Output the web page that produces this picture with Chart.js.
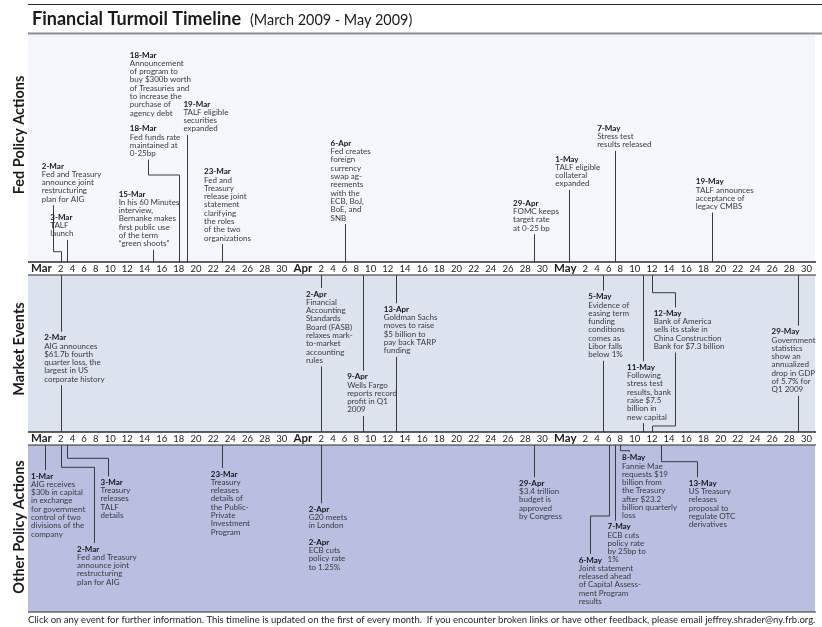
<!DOCTYPE html>
<html><head><meta charset="utf-8">
<script src="https://cdn.jsdelivr.net/npm/chart.js@4.4.1/dist/chart.umd.min.js"></script>
<style>html,body{margin:0;padding:0;background:#fff;}canvas{display:block;}</style>
</head><body>
<canvas id="c" width="822" height="627"></canvas>
<script>
// ================= DATA =================
const months = ['Mar', 'Apr', 'May'];
const monthLengths = [31, 30, 31];
const tickDays = [2, 4, 6, 8, 10, 12, 14, 16, 18, 20, 22, 24, 26, 28, 30];

const fedDates = ['2-Mar', '3-Mar', '15-Mar', '18-Mar', '18-Mar', '19-Mar', '23-Mar', '6-Apr', '29-Apr', '1-May', '7-May', '19-May'];
const fedNotes = [
  'Fed and Treasury\nannounce joint\nrestructuring\nplan for AIG',
  'TALF\nlaunch',
  'In his 60 Minutes\ninterview,\nBernanke makes\nfirst public use\nof the term\n“green shoots”',
  'Announcement\nof program to\nbuy $300b worth\nof Treasuries and\nto increase the\npurchase of\nagency debt',
  'Fed funds rate\nmaintained at\n0-25bp',
  'TALF eligible\nsecurities\nexpanded',
  'Fed and\nTreasury\nrelease joint\nstatement\nclarifying\nthe roles\nof the two\norganizations',
  'Fed creates\nforeign\ncurrency\nswap ag-\nreements\nwith the\nECB, BoJ,\nBoE, and\nSNB',
  'FOMC keeps\ntarget rate\nat 0-25 bp',
  'TALF eligible\ncollateral\nexpanded',
  'Stress test\nresults released',
  'TALF announces\nacceptance of\nlegacy CMBS'
];

const marketDates = ['2-Mar', '2-Apr', '9-Apr', '13-Apr', '5-May', '11-May', '12-May', '29-May'];
const marketNotes = [
  'AIG announces\n$61.7b fourth\nquarter loss, the\nlargest in US\ncorporate history',
  'Financial\nAccounting\nStandards\nBoard (FASB)\nrelaxes mark-\nto-market\naccounting\nrules',
  'Wells Fargo\nreports record\nprofit in Q1\n2009',
  'Goldman Sachs\nmoves to raise\n$5 billion to\npay back TARP\nfunding',
  'Evidence of\neasing term\nfunding\nconditions\ncomes as\nLibor falls\nbelow 1%',
  'Following\nstress test\nresults, bank\nraise $7.5\nbillion in\nnew capital',
  'Bank of America\nsells its stake in\nChina Construction\nBank for $7.3 billion',
  'Government\nstatistics\nshow an\nannualized\ndrop in GDP\nof 5.7% for\nQ1 2009'
];

const otherDates = ['1-Mar', '2-Mar', '3-Mar', '23-Mar', '2-Apr', '2-Apr', '29-Apr', '6-May', '7-May', '8-May', '13-May'];
const otherNotes = [
  'AIG receives\n$30b in capital\nin exchange\nfor government\ncontrol of two\ndivisions of the\ncompany',
  'Fed and Treasury\nannounce joint\nrestructuring\nplan for AIG',
  'Treasury\nreleases\nTALF\ndetails',
  'Treasury\nreleases\ndetails of\nthe Public-\nPrivate\nInvestment\nProgram',
  'G20 meets\nin London',
  'ECB cuts\npolicy rate\nto 1.25%',
  '$3.4 trillion\nbudget is\napproved\nby Congress',
  'Joint statement\nreleased ahead\nof Capital Assess-\nment Program\nresults',
  'ECB cuts\npolicy rate\nby 25bp to\n1%',
  'Fannie Mae\nrequests $19\nbillion from\nthe Treasury\nafter $23.2\nbillion quarterly\nloss',
  'US Treasury\nreleases\nproposal to\nregulate OTC\nderivatives'
];

const panelNames = ['Fed Policy Actions', 'Market Events', 'Other Policy Actions'];
const titleText = 'Financial Turmoil Timeline';
const subtitleText = '(March 2009 - May 2009)';
const footerText = 'Click on any event for further information. This timeline is updated on the first of every month.  If you encounter broken links or have other feedback, please email jeffrey.shrader@ny.frb.org.';

// ================= LAYOUT (label placement, not data) =================
// dx: text offset from the event's stem; ty: title row; ex/ey: elbow of the leader line
const fedLayout = [
  {dx: -19, ty: 166, ex: -7.6, ey: 251.7},
  {dx: -16.3, ty: 217.3},
  {dx: -34.4, ty: 194},
  {dx: -49, ty: 55, noStem: true},
  {dx: -49, ty: 128.7, ex: -31.3, ey: 175},
  {dx: -4, ty: 104},
  {dx: -17.7, ty: 171.7},
  {dx: -14, ty: 143.3},
  {dx: -20.7, ty: 203.3},
  {dx: -14, ty: 159},
  {dx: -17.4, ty: 128.3},
  {dx: -16.3, ty: 181.7}
];
const marketLayout = [
  {dx: -16.6, ty: 337.7},
  {dx: -15.3, ty: 294},
  {dx: -16.3, ty: 376.7},
  {dx: -12.7, ty: 309.3},
  {dx: -14.6, ty: 296.7},
  {dx: -16.3, ty: 367.3},
  {dx: 1.7, ty: 313.3, ex: 22.7, ey: 292.7, ey2: 426},
  {dx: -26.3, ty: 331.7}
];
const otherLayout = [
  {dx: -14.3, ty: 476},
  {dx: 16.3, ty: 549, ex: 33, ey: 467.3},
  {dx: 34, ty: 482.3, ex: 41.4, ey: 458.3},
  {dx: -11, ty: 474},
  {dx: -12.6, ty: 509.3},
  {dx: -12.6, ty: 542.3, noStem: true},
  {dx: -14.7, ty: 483.3},
  {dx: -30, ty: 560, ex: -18.4, ey: 516},
  {dx: -7, ty: 526.7},
  {dx: 1.7, ty: 457.7, ex: 8.3, ey: 450.7},
  {dx: 28.3, ty: 483.3, ex: 36, ey: 461.7}
];

const FRAME = {
  left: 28, right: 815, ruleTop: 4.5, titleBase: 25, ruleSub: 33.5,
  fedTop: 34.5, axis1Top: 262, axis1Bot: 275, axis2Top: 432, axis2Bot: 445, othBot: 612,
  footerY: 620, sideX: 19, sideY: [135, 349, 527]
};
const COLORS = {fed: '#f3f6fb', mkt: '#dde3ee', oth: '#b8bfe1', row: '#ffffff', line: '#2b2b2b',
  stem: '#3a3a3a', text: '#3a3a3a', head: '#141414', tick: '#1c1c1c'};
const FAMILY = 'Lato';
const TICK_FONT = {family: FAMILY, size: 9.5, lineHeight: '13px'};
const MONTH_FONT = {family: FAMILY, size: 11.5, weight: 'bold', lineHeight: '13px'};
const NOTE_SIZE = 8, NOTE_LH = 8.3;

// ================= helpers =================
function monthOffset(i) { let o = 0; for (let k = 0; k < i; k++) o += monthLengths[k]; return o; }
function dayValue(s) { const p = s.split('-'); return monthOffset(months.indexOf(p[1])) + Number(p[0]); }

const axisTokens = [];
months.forEach((m, i) => {
  const o = monthOffset(i);
  axisTokens.push({value: o + 0.75, label: m, month: true});
  tickDays.forEach(d => axisTokens.push({value: o + d, label: String(d), month: false}));
});

// A timeline axis whose labels flow like text; dates interpolate between labels.
class TimelineScale extends Chart.LinearScale {
  determineDataLimits() {
    this.min = axisTokens[0].value;
    this.max = axisTokens[axisTokens.length - 1].value;
  }
  buildTicks() { return axisTokens.map(t => ({value: t.value})); }
  generateTickLabels(ticks) { ticks.forEach((t, i) => { t.label = axisTokens[i].label; }); }
  configure() { super.configure(); this._measure(); }
  _measure() {
    const ctx = this.ctx; ctx.save();
    this._tw = axisTokens.map(t => {
      const f = t.month ? MONTH_FONT : TICK_FONT;
      ctx.font = (f.weight || 'normal') + ' ' + f.size + 'px ' + f.family;
      return ctx.measureText(t.label).width;
    });
    ctx.restore();
  }
  _centers() {
    if (!this._tw) this._measure();
    const tw = this._tw, total = tw.reduce((a, b) => a + b, 0);
    const gap = (this.right - this.left - total) / (tw.length - 1);
    let x = this.left;
    return tw.map(w => { const c = x + w / 2; x += w + gap; return c; });
  }
  _seg(v) {
    const t = axisTokens, n = t.length; let i = 0;
    if (v >= t[n - 1].value) i = n - 2;
    else while (i < n - 2 && v > t[i + 1].value) i++;
    return i;
  }
  getPixelForValue(v) {
    if (v === null || v === undefined || isNaN(v)) return NaN;
    const c = this._centers(), t = axisTokens, i = this._seg(v);
    const f = (v - t[i].value) / (t[i + 1].value - t[i].value);
    return c[i] + f * (c[i + 1] - c[i]);
  }
  getValueForPixel(p) {
    const c = this._centers(), t = axisTokens, n = t.length; let i = 0;
    if (p >= c[n - 1]) i = n - 2; else while (i < n - 2 && p > c[i + 1]) i++;
    const f = (p - c[i]) / (c[i + 1] - c[i]);
    return t[i].value + f * (t[i + 1].value - t[i].value);
  }
  afterFit() {
    super.afterFit();
    this.paddingLeft = 0; this.paddingRight = 0; this.paddingTop = 0; this.paddingBottom = 0;
  }
}
TimelineScale.id = 'timeline';
TimelineScale.defaults = {};
Chart.register(TimelineScale);

function tickFont(c) { return (axisTokens[c.index] && axisTokens[c.index].month) ? MONTH_FONT : TICK_FONT; }

function axisOptions(rowTop) {
  return {
    type: 'timeline', axis: 'x', position: {y: rowTop},
    grid: {display: false, drawTicks: false}, border: {display: false},
    ticks: {autoSkip: false, maxRotation: 0, minRotation: 0, padding: 0, color: COLORS.tick, font: tickFont}
  };
}

function hline(ctx, x1, x2, y, w) {
  ctx.lineWidth = w; ctx.beginPath(); ctx.moveTo(x1, y); ctx.lineTo(x2, y); ctx.stroke();
}

const framePlugin = {
  id: 'frame',
  beforeDraw(chart) {
    const ctx = chart.ctx, Y = chart.scales.y, py = v => Y.getPixelForValue(v);
    const L = FRAME.left, R = FRAME.right, W = R - L;
    ctx.save();
    const band = (top, bot, col) => { ctx.fillStyle = col; ctx.fillRect(L, py(top), W, py(bot) - py(top)); };
    band(FRAME.fedTop, FRAME.axis1Top, COLORS.fed);
    band(FRAME.axis1Top, FRAME.axis1Bot, COLORS.row);
    band(FRAME.axis1Bot, FRAME.axis2Top, COLORS.mkt);
    band(FRAME.axis2Top, FRAME.axis2Bot, COLORS.row);
    band(FRAME.axis2Bot, FRAME.othBot, COLORS.oth);
    ctx.strokeStyle = COLORS.line;
    hline(ctx, L, R + 1, py(FRAME.axis1Top), 1.6);
    hline(ctx, L, R + 1, py(FRAME.axis1Bot), 1.2);
    hline(ctx, L, R + 1, py(FRAME.axis2Top), 1.6);
    hline(ctx, L, R + 1, py(FRAME.axis2Bot), 1.2);
    hline(ctx, L, R + 1, py(FRAME.othBot), 1.2);
    // title rules
    ctx.strokeStyle = '#2a2a2a'; hline(ctx, L, chart.width, py(FRAME.ruleTop), 1);
    ctx.strokeStyle = '#8c8c8c'; hline(ctx, L, chart.width, py(FRAME.ruleSub), 2);
    // title
    ctx.fillStyle = '#1a1a1a'; ctx.textBaseline = 'alphabetic'; ctx.textAlign = 'left';
    ctx.font = 'bold 18px ' + FAMILY;
    ctx.fillText(titleText, 32, py(FRAME.titleBase));
    const tw = ctx.measureText(titleText).width;
    ctx.font = 'normal 14.4px ' + FAMILY;
    ctx.fillText(subtitleText, 32 + tw + 9, py(FRAME.titleBase));
    // side labels
    ctx.font = 'bold 14.5px ' + FAMILY; ctx.fillStyle = '#1a1a1a';
    ctx.textAlign = 'center'; ctx.textBaseline = 'middle';
    panelNames.forEach((n, i) => {
      ctx.save(); ctx.translate(FRAME.sideX, py(FRAME.sideY[i])); ctx.rotate(-Math.PI / 2);
      ctx.fillText(n, 0, 0); ctx.restore();
    });
    // footer, fitted to the frame width
    ctx.textAlign = 'left';
    ctx.font = 'normal 10px ' + FAMILY;
    const fw = ctx.measureText(footerText).width;
    const fs = 10 * (W + 1) / fw;
    ctx.font = 'normal ' + fs.toFixed(2) + 'px ' + FAMILY;
    ctx.fillStyle = '#1e1e1e';
    ctx.fillText(footerText, L, py(FRAME.footerY));
    ctx.restore();
  },
  afterDatasetsDraw(chart) {
    const ctx = chart.ctx, Y = chart.scales.y, py = v => Y.getPixelForValue(v);
    const a1t = py(FRAME.axis1Top), a1b = py(FRAME.axis1Bot), a2t = py(FRAME.axis2Top), a2b = py(FRAME.axis2Bot);
    ctx.save();
    ctx.strokeStyle = COLORS.stem; ctx.lineWidth = 1;
    const line = pts => {
      ctx.beginPath();
      pts.forEach((p, i) => { const x = Math.round(p[0]) + 0.5, y = p[1]; i ? ctx.lineTo(x, y) : ctx.moveTo(x, y); });
      ctx.stroke();
    };
    chart.data.datasets.forEach((ds, di) => {
      const meta = chart.getDatasetMeta(di);
      ds.notes.forEach((note, j) => {
        const el = meta.data[j], lay = ds.layout[j];
        const X = el.x, T = el.y;
        const lines = note.split('\n');
        const top = T - 6, bottom = T + lines.length * NOTE_LH + 6;
        if (!lay.noStem) {
          const hasE = lay.ex !== undefined;
          const XE = hasE ? X + lay.ex : X;
          if (ds.panel === 0) {
            line(hasE ? [[XE, bottom], [XE, lay.ey], [X, lay.ey], [X, a1t]] : [[X, bottom], [X, a1t]]);
          } else if (ds.panel === 1) {
            line(hasE ? [[X, a1b], [X, lay.ey], [XE, lay.ey], [XE, top]] : [[X, a1b], [X, top]]);
            line(hasE ? [[XE, bottom], [XE, lay.ey2], [X, lay.ey2], [X, a2t]] : [[X, bottom], [X, a2t]]);
          } else {
            line(hasE ? [[X, a2b], [X, lay.ey], [XE, lay.ey], [XE, top]] : [[X, a2b], [X, top]]);
          }
        }
        const tx = X + lay.dx;
        ctx.textAlign = 'left'; ctx.textBaseline = 'middle';
        ctx.fillStyle = COLORS.head; ctx.font = 'bold ' + NOTE_SIZE + 'px ' + FAMILY;
        ctx.fillText(ds.dates[j], tx, T);
        ctx.fillStyle = COLORS.text; ctx.font = 'normal ' + NOTE_SIZE + 'px ' + FAMILY;
        lines.forEach((s, k) => ctx.fillText(s, tx, T + (k + 1) * NOTE_LH));
      });
    });
    ctx.restore();
  }
};

function makeDataset(label, panel, dates, notes, layout) {
  return {
    label, panel, dates, notes, layout,
    data: dates.map((d, i) => ({x: dayValue(d), y: layout[i].ty})),
    pointRadius: 0, showLine: false, xAxisID: 'x', yAxisID: 'y'
  };
}

function build() {
  new Chart(document.getElementById('c'), {
    type: 'scatter',
    data: {datasets: [
      makeDataset(panelNames[0], 0, fedDates, fedNotes, fedLayout),
      makeDataset(panelNames[1], 1, marketDates, marketNotes, marketLayout),
      makeDataset(panelNames[2], 2, otherDates, otherNotes, otherLayout)
    ]},
    options: {
      responsive: false, animation: false, events: [],
      layout: {padding: {left: 31, right: 10, top: 0, bottom: 0}},
      plugins: {legend: {display: false}, tooltip: {enabled: false}, title: {display: false}},
      scales: {
        y: {type: 'linear', min: 0, max: 627, reverse: true, display: false},
        x: axisOptions(FRAME.axis1Top),
        x2: axisOptions(FRAME.axis2Top)
      }
    },
    plugins: [framePlugin]
  });
}

Promise.all([
  document.fonts.load('bold 12px ' + FAMILY),
  document.fonts.load('normal 12px ' + FAMILY)
]).then(build, build);
</script>
</body></html>
